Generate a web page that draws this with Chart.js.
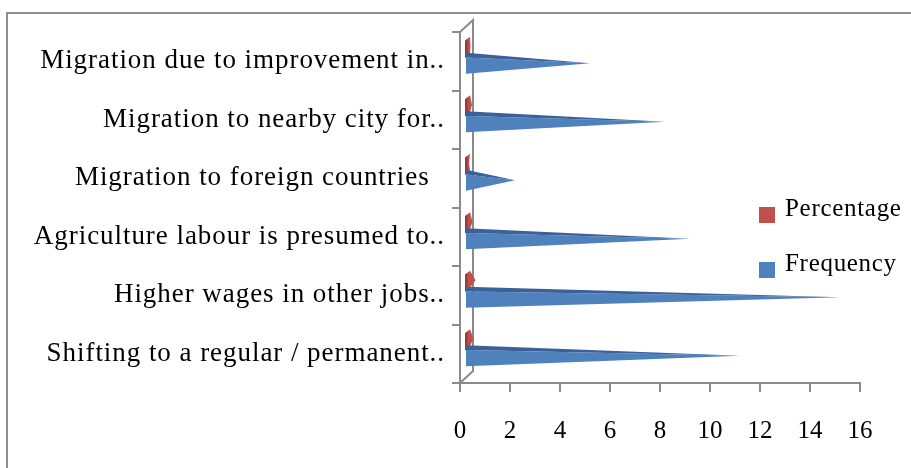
<!DOCTYPE html>
<html><head><meta charset="utf-8">
<script src="https://cdn.jsdelivr.net/npm/chart.js@4"></script>
<style>
html,body{margin:0;padding:0;background:#fff;}
#wrap{position:relative;width:911px;height:468px;overflow:hidden;background:#fff;}
#frame{position:absolute;left:6px;top:12px;width:1200px;height:1200px;border-top:2px solid #8e8e8e;border-left:2px solid #8e8e8e;}
canvas{position:absolute;left:0;top:0;}
</style></head><body>
<div id="wrap"><div id="frame"></div><canvas id="c" width="911" height="468"></canvas></div>
<script>
// ---- data ----
const categories = [
  "Migration due to improvement in..",
  "Migration to nearby city for..",
  "Migration to foreign countries  ",
  "Agriculture labour is presumed to..",
  "Higher wages in other jobs..",
  "Shifting to a regular / permanent.."
];
const percentage = [0.10, 0.16, 0.04, 0.18, 0.30, 0.22];
const frequency = [5, 8, 2, 9, 15, 11];
const xTickValues = [0, 2, 4, 6, 8, 10, 12, 14, 16];
const seriesNames = ["Percentage", "Frequency"];

// ---- style ----
const FAMILY = "'Liberation Serif', 'Times New Roman', serif";
const FONT = {family: FAMILY, size: 25};
const YFONT = {family: FAMILY, size: 27};
const AXIS = '#8a8a8a';
const RED = '#c0504d', RED_DARK = '#973c39';
const BLUE = '#4f81bd', BLUE_DARK = '#3a619a';
const DEPTH = {dx: 13, dy: -12};
const SHIFT = {dx: 5, dy: -6};
const LEG = {x: 759, y: 207, box: 16, gap: 55, textDx: 26, baseDy: 9, spacing: '0.7px'};
const YLABEL_SPACING = '0.95px';

const cone3d = {
  id: 'cone3d',
  beforeDatasetsDraw(chart) {
    const ctx = chart.ctx, a = chart.chartArea;
    ctx.save();
    ctx.strokeStyle = AXIS; ctx.lineWidth = 2;
    ctx.beginPath();
    ctx.moveTo(a.left, a.top);
    ctx.lineTo(a.left + DEPTH.dx, a.top + DEPTH.dy);
    ctx.lineTo(a.left + DEPTH.dx, a.bottom + DEPTH.dy);
    ctx.lineTo(a.left, a.bottom);
    ctx.stroke();
    chart.data.datasets.forEach((ds, i) => {
      const meta = chart.getDatasetMeta(i);
      if (meta.hidden) return;
      meta.data.forEach(bar => {
        const p = bar.getProps(['x', 'y', 'base', 'height'], true);
        const base = p.base + SHIFT.dx, tip = p.x + SHIFT.dx;
        const top = p.y - p.height / 2 + SHIFT.dy, bot = p.y + p.height / 2 + SHIFT.dy;
        const h = bot - top, mid = (top + bot) / 2;
        if (ds.shape === 'cone') {
          ctx.fillStyle = ds.coneColor;
          ctx.beginPath();
          ctx.moveTo(base, top + 0.22 * h); ctx.lineTo(tip, mid); ctx.lineTo(base, bot); ctx.closePath();
          ctx.fill();
          ctx.fillStyle = ds.coneDark;
          ctx.beginPath();
          ctx.moveTo(base, top); ctx.lineTo(tip, mid); ctx.lineTo(base, top + 0.22 * h); ctx.closePath();
          ctx.fill();
        } else {
          ctx.fillStyle = ds.coneColor;
          ctx.beginPath();
          ctx.moveTo(base - 1, top + 4); ctx.lineTo(base + 4, top); ctx.lineTo(tip + 3, top + 0.45 * h);
          ctx.lineTo(base + 4, bot - 4); ctx.lineTo(base - 1, bot); ctx.closePath();
          ctx.fill();
          ctx.fillStyle = ds.coneDark;
          ctx.beginPath();
          ctx.moveTo(base - 1, top + 4); ctx.lineTo(base + 1.5, top + 2); ctx.lineTo(base + 1.5, bot - 1); ctx.lineTo(base - 1, bot); ctx.closePath();
          ctx.fill();
        }
      });
    });
    ctx.restore();
    return false;
  },
  afterDraw(chart) {
    const ctx = chart.ctx;
    ctx.save();
    ctx.font = FONT.size + 'px ' + FONT.family;
    ctx.letterSpacing = LEG.spacing;
    ctx.textBaseline = 'alphabetic'; ctx.textAlign = 'left';
    chart.data.datasets.forEach((ds, i) => {
      const y = LEG.y + i * LEG.gap;
      ctx.fillStyle = ds.coneColor;
      ctx.fillRect(LEG.x, y, LEG.box, LEG.box);
      ctx.fillStyle = '#000';
      ctx.fillText(ds.label, LEG.x + LEG.textDx, y + LEG.baseDy);
    });
    ctx.restore();
  }
};

new Chart(document.getElementById('c'), {
  type: 'bar',
  data: {
    labels: categories,
    datasets: [
      {label: seriesNames[0], data: percentage, shape: 'pyramid', coneColor: RED, coneDark: RED_DARK, backgroundColor: RED},
      {label: seriesNames[1], data: frequency, shape: 'cone', coneColor: BLUE, coneDark: BLUE_DARK, backgroundColor: BLUE}
    ]
  },
  options: {
    indexAxis: 'y',
    responsive: false,
    devicePixelRatio: 1,
    animation: false,
    categoryPercentage: 0.55,
    barPercentage: 1.3,
    layout: {padding: {top: 32, right: 51, left: 0, bottom: 0}},
    plugins: {legend: {display: false}, tooltip: {enabled: false}},
    scales: {
      x: {
        min: 0, max: 16,
        afterBuildTicks(scale) { scale.ticks = xTickValues.map(v => ({value: v})); },
        afterFit(scale) { scale.height = 85; },
        grid: {drawOnChartArea: false, drawTicks: true, tickLength: 9, color: AXIS, lineWidth: 2},
        border: {color: AXIS, width: 2},
        ticks: {font: FONT, color: '#000', padding: 24, maxRotation: 0, autoSkip: false}
      },
      y: {
        afterFit(scale) {
          if (!scale._spaced) {
            const orig = scale.drawLabels;
            scale.drawLabels = function (area) {
              this.ctx.save();
              this.ctx.letterSpacing = YLABEL_SPACING;
              orig.call(this, area);
              this.ctx.restore();
            };
            scale._spaced = true;
          }
          scale.width = 460;
        },
        grid: {drawOnChartArea: false, drawTicks: true, tickLength: 8, color: AXIS, lineWidth: 2},
        border: {color: AXIS, width: 2},
        ticks: {font: YFONT, color: '#000', padding: 7, autoSkip: false}
      }
    }
  },
  plugins: [cone3d]
});
</script>
</body></html>
